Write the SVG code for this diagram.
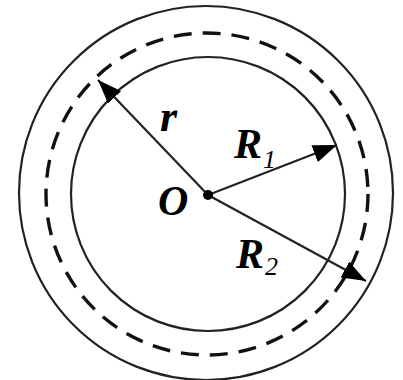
<svg xmlns="http://www.w3.org/2000/svg" width="403" height="380" viewBox="0 0 403 380">
<style>
.c{fill:none;stroke:#222;stroke-width:2.2}
.d{fill:none;stroke:#111;stroke-width:3.4;stroke-dasharray:18 11}
.a{stroke:#222;stroke-width:2.2;fill:none}
.t{font-family:"Liberation Serif",serif;font-style:italic;font-weight:bold;font-size:42px;fill:#000}
.s{font-family:"Liberation Serif",serif;font-style:italic;font-size:26px;fill:#000}
</style>
<defs>
<marker id="ah" viewBox="0 0 24 18" refX="24" refY="9" markerWidth="24" markerHeight="18" markerUnits="userSpaceOnUse" orient="auto">
<path d="M0,0 L24,9 L0,18 Z" fill="#000"/>
</marker>
</defs>
<rect width="403" height="380" fill="#fff"/>
<g id="outer"><circle class="c" cx="206" cy="193" r="187"/></g>
<g id="dashed"><circle class="d" cx="207" cy="194" r="161"/></g>
<g id="inner"><circle class="c" cx="208" cy="194" r="137"/></g>
<g id="connectors">
<line class="a" x1="208" y1="195" x2="98" y2="80" marker-end="url(#ah)"/>
<line class="a" x1="208" y1="195" x2="337" y2="145" marker-end="url(#ah)"/>
<line class="a" x1="208" y1="195" x2="366" y2="281" marker-end="url(#ah)"/>
</g>
<g id="center"><circle cx="208" cy="195" r="5" fill="#000"/></g>
<g id="labels">
<text class="t" x="160" y="131" style="font-size:44px">r</text>
<text class="t" x="234" y="158">R</text><text class="s" x="263" y="168">1</text>
<text class="t" x="158" y="215">O</text>
<text class="t" x="236" y="268">R</text><text class="s" x="265" y="275">2</text>
</g>
</svg>
